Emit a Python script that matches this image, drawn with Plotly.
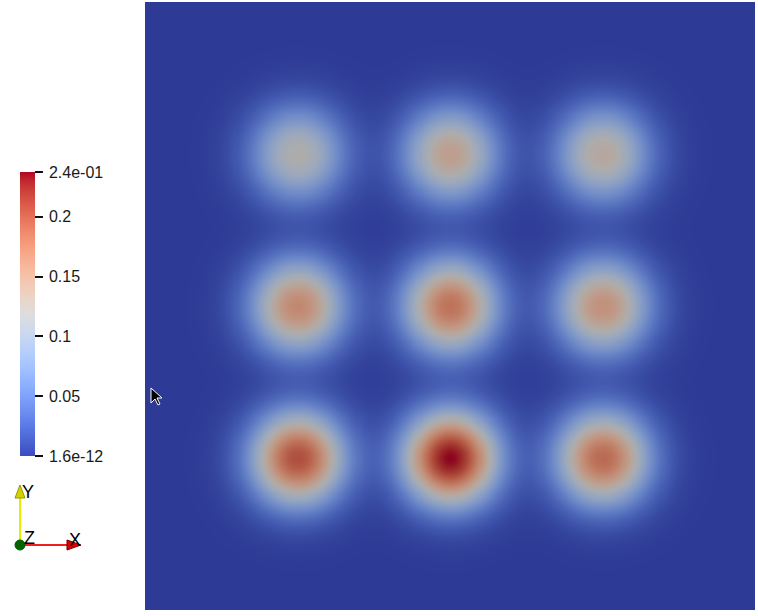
import numpy as np
import plotly.graph_objects as go

# ---- data ----
blob_x = [0.25, 0.50, 0.75, 0.25, 0.50, 0.75, 0.25, 0.50, 0.75]
blob_y = [0.25, 0.25, 0.25, 0.50, 0.50, 0.50, 0.75, 0.75, 0.75]
blob_peak = [0.205, 0.237, 0.188, 0.165, 0.182, 0.157, 0.12, 0.143, 0.13]
blob_radius = [0.077, 0.077, 0.077, 0.077, 0.077, 0.077, 0.077, 0.077, 0.077]
blob_power = 2.1
cmin, cmax = 1.6e-12, 0.2375
tick_vals = [0.0, 0.05, 0.1, 0.15, 0.2, 0.2375]
tick_text = ["1.6e-12", "0.05", "0.1", "0.15", "0.2", "2.4e-01"]

coolwarm = [
    (59, 76, 192), (68, 90, 204), (77, 104, 215), (87, 117, 225), (98, 130, 234),
    (108, 142, 241), (119, 154, 247), (130, 165, 251), (141, 176, 254), (152, 185, 255),
    (163, 194, 255), (174, 201, 253), (184, 208, 249), (194, 213, 244), (204, 217, 238),
    (213, 219, 230), (221, 221, 221), (229, 216, 209), (236, 211, 197), (241, 204, 185),
    (245, 196, 173), (247, 187, 160), (247, 177, 148), (247, 166, 135), (244, 154, 123),
    (241, 141, 111), (236, 127, 99), (229, 112, 88), (222, 96, 77), (213, 80, 66),
    (203, 62, 56), (192, 40, 47), (180, 4, 38)]

def scale(f):
    n = len(coolwarm) - 1
    return [[i / n, "rgb(%d,%d,%d)" % tuple(min(255, round(c * f)) for c in col)]
            for i, col in enumerate(coolwarm)]

# ---- field ----
gx = np.linspace(0, 1, 301)
gy = np.linspace(0, 1, 301)
X, Y = np.meshgrid(gx, gy)
Z = np.zeros_like(X)
for bx, by, bp, br in zip(blob_x, blob_y, blob_peak, blob_radius):
    r = np.sqrt((X - bx) ** 2 + (Y - by) ** 2)
    Z += bp * np.exp(-(r / br) ** blob_power)

W, H = 758, 616
L, R, T, B = 145, 3, 2, 6
pw, ph = W - L - R, H - T - B

def px(x):
    return (x - L) / pw

def py(y):
    return (H - B - y) / ph

fig = go.Figure()
fig.add_trace(go.Heatmap(x=gx, y=gy, z=Z, zmin=cmin, zmax=cmax, colorscale=scale(0.78),
                         zsmooth="best", showscale=False, hoverinfo="skip"))
fig.add_trace(go.Scatter(
    x=[0.5, 0.5], y=[0.5, 0.5], mode="markers", hoverinfo="skip", showlegend=False,
    marker=dict(color=[cmin, cmax], cmin=cmin, cmax=cmax, colorscale=scale(1.0), opacity=0,
                size=1, showscale=True,
                colorbar=dict(x=px(20), xanchor="left", xpad=0, ypad=0,
                              y=py(314), yanchor="middle", lenmode="pixels", len=284,
                              thickness=15, outlinewidth=0, ticks="outside", ticklen=8,
                              tickwidth=1.5, tickcolor="#111",
                              tickvals=tick_vals, ticktext=["\u2009" + t for t in tick_text],
                              tickfont=dict(family="Liberation Sans, Arial", size=16, color="#1a1a1a")))))

shapes = []
# axes triad
shapes.append(dict(type="line", xref="paper", yref="paper", x0=px(20), y0=py(545), x1=px(70), y1=py(545),
                   line=dict(color="rgb(240,30,30)", width=2)))
shapes.append(dict(type="path", xref="paper", yref="paper",
                   path="M %f %f L %f %f L %f %f Z" % (px(67), py(540), px(81), py(545), px(67), py(550)),
                   fillcolor="rgb(220,0,0)", line=dict(color="rgb(120,0,0)", width=1)))
shapes.append(dict(type="line", xref="paper", yref="paper", x0=px(20), y0=py(545), x1=px(20), y1=py(497),
                   line=dict(color="rgb(235,235,0)", width=2)))
shapes.append(dict(type="path", xref="paper", yref="paper",
                   path="M %f %f L %f %f L %f %f Z" % (px(15), py(498), px(20), py(485), px(25), py(498)),
                   fillcolor="rgb(210,210,0)", line=dict(color="rgb(150,150,0)", width=1)))
shapes.append(dict(type="circle", xref="paper", yref="paper", x0=px(15), y0=py(550), x1=px(25), y1=py(540),
                   fillcolor="rgb(0,100,0)", line=dict(color="rgb(0,90,0)", width=1)))
# mouse cursor
cx, cy = 151, 388
pts = [(0, 0), (0, 15), (4, 11), (7, 17), (9, 16), (6, 10), (11, 10)]
path = "M " + " L ".join("%f %f" % (px(cx + a), py(cy + b)) for a, b in pts) + " Z"
shapes.append(dict(type="path", xref="paper", yref="paper", path=path, fillcolor="black",
                   line=dict(color="white", width=1)))

ann = []
for txt, x, y in [("Y", 28, 492), ("X", 75, 540), ("Z", 29, 538)]:
    ann.append(dict(text=txt, x=px(x), y=py(y), xref="paper", yref="paper", showarrow=False,
                    xanchor="center", yanchor="middle",
                    font=dict(family="Liberation Sans, Arial", size=18, color="black")))

fig.update_layout(
    width=W, height=H, margin=dict(l=L, r=R, t=T, b=B),
    paper_bgcolor="white", plot_bgcolor="white",
    xaxis=dict(range=[0, 1], visible=False, showgrid=False, zeroline=False),
    yaxis=dict(range=[0, 1], visible=False, showgrid=False, zeroline=False),
    shapes=shapes, annotations=ann, showlegend=False)

fig.write_html("out.html", config={"displayModeBar": False},
               post_script="document.body.style.margin='0';")
